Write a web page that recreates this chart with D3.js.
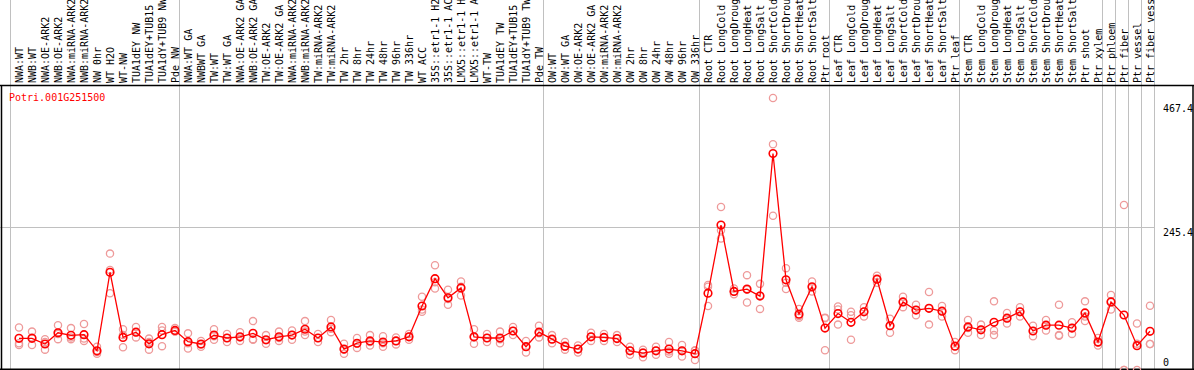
<!DOCTYPE html>
<html>
<head>
<meta charset="utf-8">
<script src="https://cdn.jsdelivr.net/npm/d3@7/dist/d3.min.js"></script>
<style>
  html, body { margin: 0; padding: 0; background: #fff; }
  svg { display: block; }
  text { font-family: 'DejaVu Sans Mono', monospace; font-size: 10px; }
</style>
</head>
<body>
<div id="chart"></div>
<script>
const geneId = 'Potri.001G251500'

const sampleLabels = [
  'NWA:WT', 'NWB:WT', 'NWA:OE-ARK2', 'NWB:OE-ARK2', 'NWA:miRNA-ARK2', 'NWB:miRNA-ARK2', 'NW 0hr', 'WT H2O', 'WT-NW',
  'TUA1dEY NW', 'TUA1dEY+TUB15', 'TUA1dY+TUB9 NW', 'Pde NW',
  'NWA:WT GA', 'NWBWT GA', 'TW:WT', 'TW:WT GA', 'NWA:OE-ARK2 GA', 'NWB:OE-ARK2 GA', 'TW:OE-ARK2', 'TW:OE-ARK2 GA',
  'NWA:miRNA-ARK2', 'NWB:miRNA-ARK2', 'TW:miRNA-ARK2', 'TW:miRNA-ARK2', 'TW 2hr', 'TW 8hr', 'TW 24hr', 'TW 48hr',
  'TW 96hr', 'TW 336hr', 'WT ACC', '35S::etr1-1 H2', '35S::etr1-1 AC', 'LMX5::etr1-1 H', 'LMX5::etr1-1 A', 'WT-TW',
  'TUA1dEY TW', 'TUA1dEY+TUB15', 'TUA1dY+TUB9 TW', 'Pde TW',
  'OW:WT', 'OW:WT GA', 'OW:OE-ARK2', 'OW:OE-ARK2 GA', 'OW:miRNA-ARK2', 'OW:miRNA-ARK2', 'OW 2hr', 'OW 8hr', 'OW 24hr',
  'OW 48hr', 'OW 96hr', 'OW 336hr',
  'Root CTR', 'Root LongCold', 'Root LongDroug', 'Root LongHeat', 'Root LongSalt', 'Root ShortCold', 'Root ShortDrou',
  'Root ShortHeat', 'Root ShortSalt', 'Ptr root',
  'Leaf CTR', 'Leaf LongCold', 'Leaf LongDroug', 'Leaf LongHeat', 'Leaf LongSalt', 'Leaf ShortCold', 'Leaf ShortDrou',
  'Leaf ShortHeat', 'Leaf ShortSalt', 'Ptr leaf',
  'Stem CTR', 'Stem LongCold', 'Stem LongDroug', 'Stem LongHeat', 'Stem LongSalt', 'Stem ShortCold', 'Stem ShortDrou',
  'Stem ShortHeat', 'Stem ShortSalt', 'Ptr shoot', 'Ptr xylem',
  'Ptr phloem', 'Ptr fiber', 'Ptr vessel', 'Ptr fiber vess'
]

// index of the first sample of every experiment block (a grey separator sits before each)
const groupStarts = [0, 13, 41, 53, 63, 73, 84, 85, 86, 87]

const meanValues = [
  54.5, 54.5, 44.7, 64, 59.6, 60.7, 33, 168, 56, 65, 45, 60.7, 68,
  48.7, 44.7, 60, 55, 57, 63, 52, 57, 60, 70, 55, 74, 36, 46, 50, 48, 50, 57, 110, 157, 124, 141, 57, 55, 55, 67, 40, 65,
  53, 41, 36, 57, 56, 54, 33, 29, 33, 36, 33, 28,
  132, 249, 135, 139, 127, 372, 155, 96, 143, 72,
  97, 82, 100, 156, 76, 117, 103, 106, 101, 41,
  74, 69, 82, 89, 100, 67, 77, 77, 72, 98, 48,
  117, 94.5, 41.8, 66.5
]

const rep1 = [
  73, 66, 53, 77, 72, 79, 40, 200, 70, 74, 54, 74, 72,
  63, 50, 70, 62, 65, 84, 60, 66, 68, 84, 62, 86, 45, 55, 60, 58, 56, 62, 126, 180, 138, 152, 70, 62, 66, 74, 50, 76,
  60, 48, 42, 64, 62, 60, 40, 35, 40, 48, 43, 34,
  146, 280, 140, 163, 148, 467.4, 175, 105, 152, 90,
  109, 100, 108, 162, 88, 126, 112, 134, 110, 48,
  86, 78, 118, 98, 108, 76, 86, 112, 82, 118, 55,
  129, 283.5, 80, 110.5
]
const rep2 = [
  46, 43, 35, 53, 53, 54, 31, 172, 39, 56, 35, 41, 66,
  37, 40, 52, 48, 50, 52, 45, 50, 52, 60, 48, 65, 28, 38, 42, 40, 44, 52, 100, 140, 112, 128, 45, 48, 46, 60, 30, 56,
  46, 35, 30, 50, 50, 48, 26, 22, 26, 28, 23, 17,
  110, 240, 130, 116, 105, 388, 139, 90, 135, 34,
  78, 52, 92, 150, 64, 108, 94, 78, 92, 34,
  64, 60, 60, 80, 92, 58, 68, 60, 62, 84, 42,
  118, 0, 0, 44.7
]
const rep3 = [
  43, 56, 48, 62, 56, 50, 28, 132, 60, 65, 48, 68, 66,
  46, 44, 58, 55, 56, 53, 51, 55, 60, 66, 55, 71, 35, 45, 48, 46, 50, 57, 104, 151, 122, 143, 56, 55, 53, 67, 40, 63,
  53, 40, 36, 57, 56, 54, 33, 30, 33, 32, 33, 33,
  143, 226, 135, 138, 128, 265, 150, 93, 142, 89,
  104, 94, 100, 156, 76, 117, 103, 106, 101, 41,
  72, 69, 68, 89, 100, 67, 77, 59, 72, 92, 47,
  104, 0, 45, 44.7
]

const yTicks = [0, 245.4, 467.4]

const createChart = () => {
  const width = 1194
  const height = 370
  const headerH = 86
  const plotTop = 98
  const plotBottom = 370
  const markOffset = 8

  const xScale = d3.scaleBand().domain(d3.range(sampleLabels.length)).range([11, 1155]).padding(0)
  const yScale = d3.scaleLinear().domain([0, d3.max(yTicks)]).range([plotBottom, plotTop])
  const cx = (i) => xScale(i) + markOffset

  const svg = d3.select('#chart')
              .append('svg')
              .attr('width', width)
              .attr('height', height)

  // grey separators between experiment blocks
  const seps = groupStarts.map((i) => xScale(i)).concat([xScale.range()[1]])
  svg.selectAll('line.sep')
     .data(seps)
     .enter()
     .append('line')
     .attr('class', 'sep')
     .attr('x1', (d) => d - 0.5)
     .attr('x2', (d) => d - 0.5)
     .attr('y1', 0)
     .attr('y2', height)
     .attr('stroke', '#c0c0c0')
     .attr('stroke-width', 1)

  // horizontal guide at the middle tick
  svg.append('line')
     .attr('x1', 0)
     .attr('x2', xScale.range()[1])
     .attr('y1', Math.round(yScale(yTicks[1])) + 0.5)
     .attr('y2', Math.round(yScale(yTicks[1])) + 0.5)
     .attr('stroke', '#c0c0c0')
     .attr('stroke-width', 1)

  // sample names, vertical
  svg.selectAll('text.sample')
     .data(sampleLabels)
     .enter()
     .append('text')
     .attr('class', 'sample')
     .attr('transform', (d, i) => `translate(${cx(i) + 3.5}, ${headerH - 3}) rotate(-90)`)
     .attr('fill', '#000')
     .text((d) => d)

  // frame
  svg.append('line').attr('x1', 0).attr('x2', width).attr('y1', headerH - 0.5).attr('y2', headerH - 0.5)
     .attr('stroke', '#000').attr('stroke-width', 1.5)
  svg.append('line').attr('x1', 1.5).attr('x2', 1.5).attr('y1', headerH).attr('y2', height)
     .attr('stroke', '#000').attr('stroke-width', 1.5)
  svg.append('line').attr('x1', width - 1).attr('x2', width - 1).attr('y1', headerH).attr('y2', height)
     .attr('stroke', '#000').attr('stroke-width', 1.5)
  svg.append('line').attr('x1', 0).attr('x2', width).attr('y1', height - 0.75).attr('y2', height - 0.75)
     .attr('stroke', '#000').attr('stroke-width', 1.5)

  // y labels on the right
  svg.selectAll('text.ytick')
     .data(yTicks)
     .enter()
     .append('text')
     .attr('class', 'ytick')
     .attr('x', 1163)
     .attr('y', (d) => Math.max(plotTop + 14, Math.min(yScale(d) + 9, plotBottom - 4)))
     .attr('fill', '#000')
     .text((d) => d3.format('~f')(d))

  svg.append('text')
     .attr('x', 9)
     .attr('y', 101)
     .attr('fill', '#ff0000')
     .text(geneId)

  // replicate points
  const reps = [rep1, rep2, rep3]
  reps.forEach((arr) => {
    svg.append('g')
       .selectAll('circle')
       .data(arr)
       .enter()
       .append('circle')
       .attr('cx', (d, i) => cx(i))
       .attr('cy', (d) => yScale(d))
       .attr('r', 3.6)
       .attr('fill', 'none')
       .attr('stroke', '#ee9a9a')
       .attr('stroke-width', 1.3)
  })

  const line = d3.line()
                 .x((d, i) => cx(i))
                 .y((d) => yScale(d))

  svg.append('path')
     .datum(meanValues)
     .attr('d', line)
     .attr('fill', 'none')
     .attr('stroke', '#ff0000')
     .attr('stroke-width', 1.3)

  svg.append('g')
     .selectAll('circle')
     .data(meanValues)
     .enter()
     .append('circle')
     .attr('cx', (d, i) => cx(i))
     .attr('cy', (d) => yScale(d))
     .attr('r', 3.8)
     .attr('fill', 'none')
     .attr('stroke', '#ff0000')
     .attr('stroke-width', 1.6)
}

createChart()
</script>
</body>
</html>
